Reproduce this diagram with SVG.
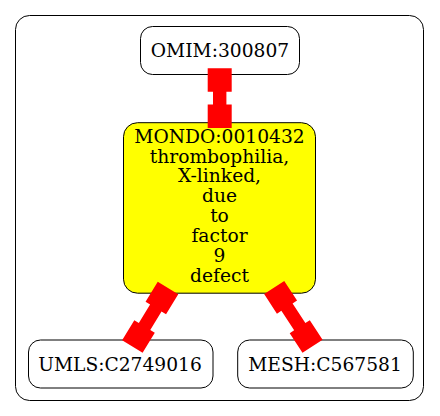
<svg xmlns="http://www.w3.org/2000/svg" width="440" height="416" viewBox="0 0 440 416">
<style>
.node{fill:#ffffff;stroke:#000000;stroke-width:1}
.hl{fill:#ffff00}
.t{font-family:"DejaVu Serif",serif;font-size:18.67px;text-anchor:middle;fill:#000000}
.edge{fill:#ff0000;stroke:none}
</style>
<rect id="cluster" x="15.5" y="15.5" width="408" height="385" rx="14" ry="14" fill="#ffffff" stroke="#000000" stroke-width="1"/>
<g id="OMIM_300807">
<rect class="node" x="140.5" y="26.5" width="159" height="48" rx="12" ry="12"/>
<text class="t" x="220" y="57">OMIM:300807</text>
</g>
<g id="MONDO_0010432">
<rect class="node hl" x="123.5" y="122.7" width="192" height="170.5" rx="14" ry="14"/>
<text class="t" x="219.5" y="142.7">MONDO:0010432</text>
<text class="t" x="219.5" y="162.6">thrombophilia,</text>
<text class="t" x="219.5" y="182.4">X-linked,</text>
<text class="t" x="219.5" y="202.3">due</text>
<text class="t" x="219.5" y="222.1">to</text>
<text class="t" x="219.5" y="242">factor</text>
<text class="t" x="219.5" y="261.8">9</text>
<text class="t" x="219.5" y="281.7">defect</text>
</g>
<g id="UMLS_C2749016">
<rect class="node" x="28.5" y="340" width="184.5" height="48" rx="12" ry="12"/>
<text class="t" x="120" y="370.5">UMLS:C2749016</text>
</g>
<g id="MESH_C567581">
<rect class="node" x="237.7" y="340" width="175.6" height="48" rx="12" ry="12"/>
<text class="t" x="325" y="370.5">MESH:C567581</text>
</g>
<g id="connectors">
<path class="edge" transform="translate(219.7,68.3) rotate(90)" d="M0,-12 H23.4 V-6.7 H36.3 V-12 H59.7 V12 H36.3 V6.7 H23.4 V12 H0 Z"/>
<path class="edge" transform="translate(168,288) rotate(121.4)" d="M0,-12 H23.4 V-6.7 H45 V-12 H68.4 V12 H45 V6.7 H23.4 V12 H0 Z"/>
<path class="edge" transform="translate(274.2,287.5) rotate(56.9)" d="M0,-12 H23.4 V-6.7 H46.8 V-12 H70.2 V12 H46.8 V6.7 H23.4 V12 H0 Z"/>
</g>
</svg>
